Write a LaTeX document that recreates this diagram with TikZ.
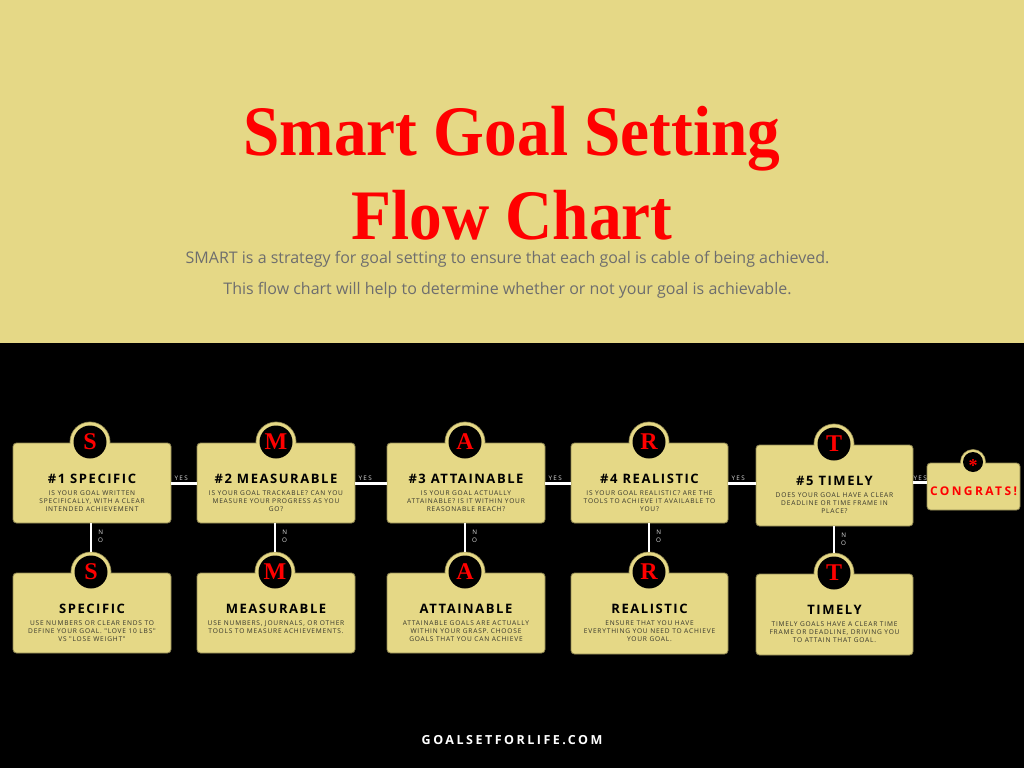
\documentclass[tikz,border=0pt]{standalone}
\usepackage{fontspec}
\setmainfont{Open Sans}
\newfontfamily\titlefont{Liberation Serif}
\newfontfamily\headfont[LetterSpace=12]{Open Sans}
\newfontfamily\descfont[LetterSpace=12]{Open Sans}
\newfontfamily\widefont[LetterSpace=20]{Open Sans}
\definecolor{bg}{HTML}{E5D886}
\definecolor{edge}{HTML}{8F8652}
\definecolor{titlered}{HTML}{FF0000}
\definecolor{subgray}{HTML}{6E6E6E}
\definecolor{descgray}{HTML}{35352C}
\tikzset{
  card/.style={draw=edge, fill=bg, line width=0.8pt, rounded corners=3.5pt, inner sep=0pt, outer sep=0pt},
  ring/.style={circle, draw=edge, fill=bg, line width=0.8pt, minimum size=40pt, inner sep=0pt, outer sep=0pt},
  ringfill/.style={circle, fill=bg, minimum size=39pt, inner sep=0pt},
  hole/.style={circle, fill=black, minimum size=33pt, inner sep=0pt, text=titlered,
    font=\titlefont\bfseries\fontsize{24}{24}\selectfont},
  cardtitle/.style={inner sep=0pt, text=black, font=\headfont\bfseries\fontsize{13}{13}\selectfont},
  carddesc/.style={inner sep=0pt, align=center, text=descgray, font=\descfont\fontsize{6.6}{8}\selectfont},
  conn/.style={draw=white, line width=3pt},
  lbl/.style={inner sep=0pt, text=white!85!black, font=\widefont\fontsize{6.3}{8}\selectfont},
  bigtitle/.style={inner sep=0pt, text=titlered, font=\titlefont\bfseries\fontsize{71}{71}\selectfont},
  subtext/.style={inner sep=0pt, text=subgray, font=\fontsize{16}{16}\selectfont},
}
% #1 name, #2 left, #3 right, #4 top, #5 bottom, #6 ring x, #7 letter, #8 title, #9 description
\newcommand\smartcard[9]{%
  \node[ring] (#1r) at (#6,#4-1) {};
  \node[card, minimum width={(#3)-(#2)}, minimum height={(#5)-(#4)}] (#1) at ({((#2)+(#3))/2},{((#4)+(#5))/2}) {};
  \node[ringfill] (#1f) at (#1r) {};
  \node[hole] (#1c) at (#1r) {#7};
  \node[cardtitle] (#1t) at ({((#2)+(#3))/2},#4+35.5) {#8};
  \node[carddesc, anchor=north] (#1d) at ({((#2)+(#3))/2},#4+47.5) {#9};
}
\begin{document}
\begin{tikzpicture}[x=1pt,y=-1pt]
\useasboundingbox (0,0) rectangle (1024,768);
\fill[bg] (0,0) rectangle (1024,343);
\fill[black] (0,343) rectangle (1024,768);

\node[bigtitle, anchor=base] (title1) at (512,155) {\scalebox{0.92}[1]{Smart Goal Setting}};
\node[bigtitle, anchor=base] (title2) at (512,239.5) {\smash{\scalebox{0.92}[1]{Flow Chart}}};
\node[subtext, anchor=base] (sub1) at (507.5,263) {SMART is a strategy for goal setting to ensure that each goal is cable of being achieved.};
\node[subtext, anchor=base] (sub2) at (507.5,294) {This flow chart will help to determine whether or not your goal is achievable.};

% top row
\smartcard{b1}{13}{171}{443}{523}{90}{S}{\#1 SPECIFIC}{IS YOUR GOAL WRITTEN\\SPECIFICALLY, WITH A CLEAR\\INTENDED ACHIEVEMENT}
\smartcard{b2}{197}{355}{443}{523}{276}{M}{\#2 MEASURABLE}{IS YOUR GOAL TRACKABLE? CAN YOU\\MEASURE YOUR PROGRESS AS YOU\\GO?}
\smartcard{b3}{387}{545}{443}{523}{465}{A}{\#3 ATTAINABLE}{IS YOUR GOAL ACTUALLY\\ATTAINABLE? IS IT WITHIN YOUR\\REASONABLE REACH?}
\smartcard{b4}{571}{728}{443}{523}{649}{R}{\#4 REALISTIC}{IS YOUR GOAL REALISTIC? ARE THE\\TOOLS TO ACHIEVE IT AVAILABLE TO\\YOU?}
\smartcard{b5}{756}{913}{445}{526}{834}{T}{\#5 TIMELY}{DOES YOUR GOAL HAVE A CLEAR\\DEADLINE OR TIME FRAME IN\\PLACE?}

% bottom row
\smartcard{s1}{13}{171}{573}{653}{91}{S}{SPECIFIC}{USE NUMBERS OR CLEAR ENDS TO\\DEFINE YOUR GOAL. "LOVE 10 LBS"\\VS "LOSE WEIGHT"}
\smartcard{s2}{197}{355}{573}{653}{275}{M}{MEASURABLE}{USE NUMBERS, JOURNALS, OR OTHER\\TOOLS TO MEASURE ACHIEVEMENTS.}
\smartcard{s3}{387}{545}{573}{653}{465}{A}{ATTAINABLE}{ATTAINABLE GOALS ARE ACTUALLY\\WITHIN YOUR GRASP. CHOOSE\\GOALS THAT YOU CAN ACHIEVE}
\smartcard{s4}{571}{728}{573}{654}{649}{R}{REALISTIC}{ENSURE THAT YOU HAVE\\EVERYTHING YOU NEED TO ACHIEVE\\YOUR GOAL.}
\smartcard{s5}{756}{913}{574}{655}{834}{T}{TIMELY}{TIMELY GOALS HAVE A CLEAR TIME\\FRAME OR DEADLINE, DRIVING YOU\\TO ATTAIN THAT GOAL.}

% congrats
\node[ring, minimum size=25pt] (cgr) at (973,462) {};
\node[card, minimum width=93pt, minimum height=47pt] (cg) at (973.5,486.5) {};
\node[ringfill, minimum size=24.2pt] (cgf) at (cgr) {};
\node[hole, minimum size=20pt] (cgc) at (cgr) {};
\node[inner sep=0pt, anchor=base, text=titlered, font=\titlefont\bfseries\fontsize{18}{18}\selectfont] (cga) at (973,471) {*};
\node[inner sep=0pt, text=titlered, font=\widefont\bfseries\fontsize{12}{12}\selectfont] (cgt) at (973.5,491) {CONGRATS!};

% yes connectors
\foreach \a/\b in {b1/b2, b2/b3, b3/b4, b4/b5}{
  \draw[conn] (\a.east) -- (\a.east -| \b.west);
  \node[lbl, anchor=south west] at ([xshift=3.5pt,yshift=2.2pt]\a.east) {YES};
}
\coordinate (y5s) at ([yshift=3pt]b5.east);
\draw[conn] (y5s) -- (y5s -| cg.west);
\node[lbl, anchor=south west] (y5) at ([xshift=0.5pt,yshift=2.2pt]y5s) {YES};

% no connectors
\foreach \a/\b in {b1/s1, b2/s2, b3/s3, b4/s4, b5/s5}{
  \draw[conn, line width=2.6pt] (\a.south -| \b r.center) -- (\b r.north);
  \node[lbl, anchor=north west, align=center] at ([xshift=7pt,yshift=-7pt]\a.south -| \b r.center) {N\\O};
}

\node[inner sep=0pt, text=white, font=\widefont\bfseries\fontsize{12.5}{12.5}\selectfont] (footer) at (512,740) {GOALSETFORLIFE.COM};
\end{tikzpicture}
\end{document}
